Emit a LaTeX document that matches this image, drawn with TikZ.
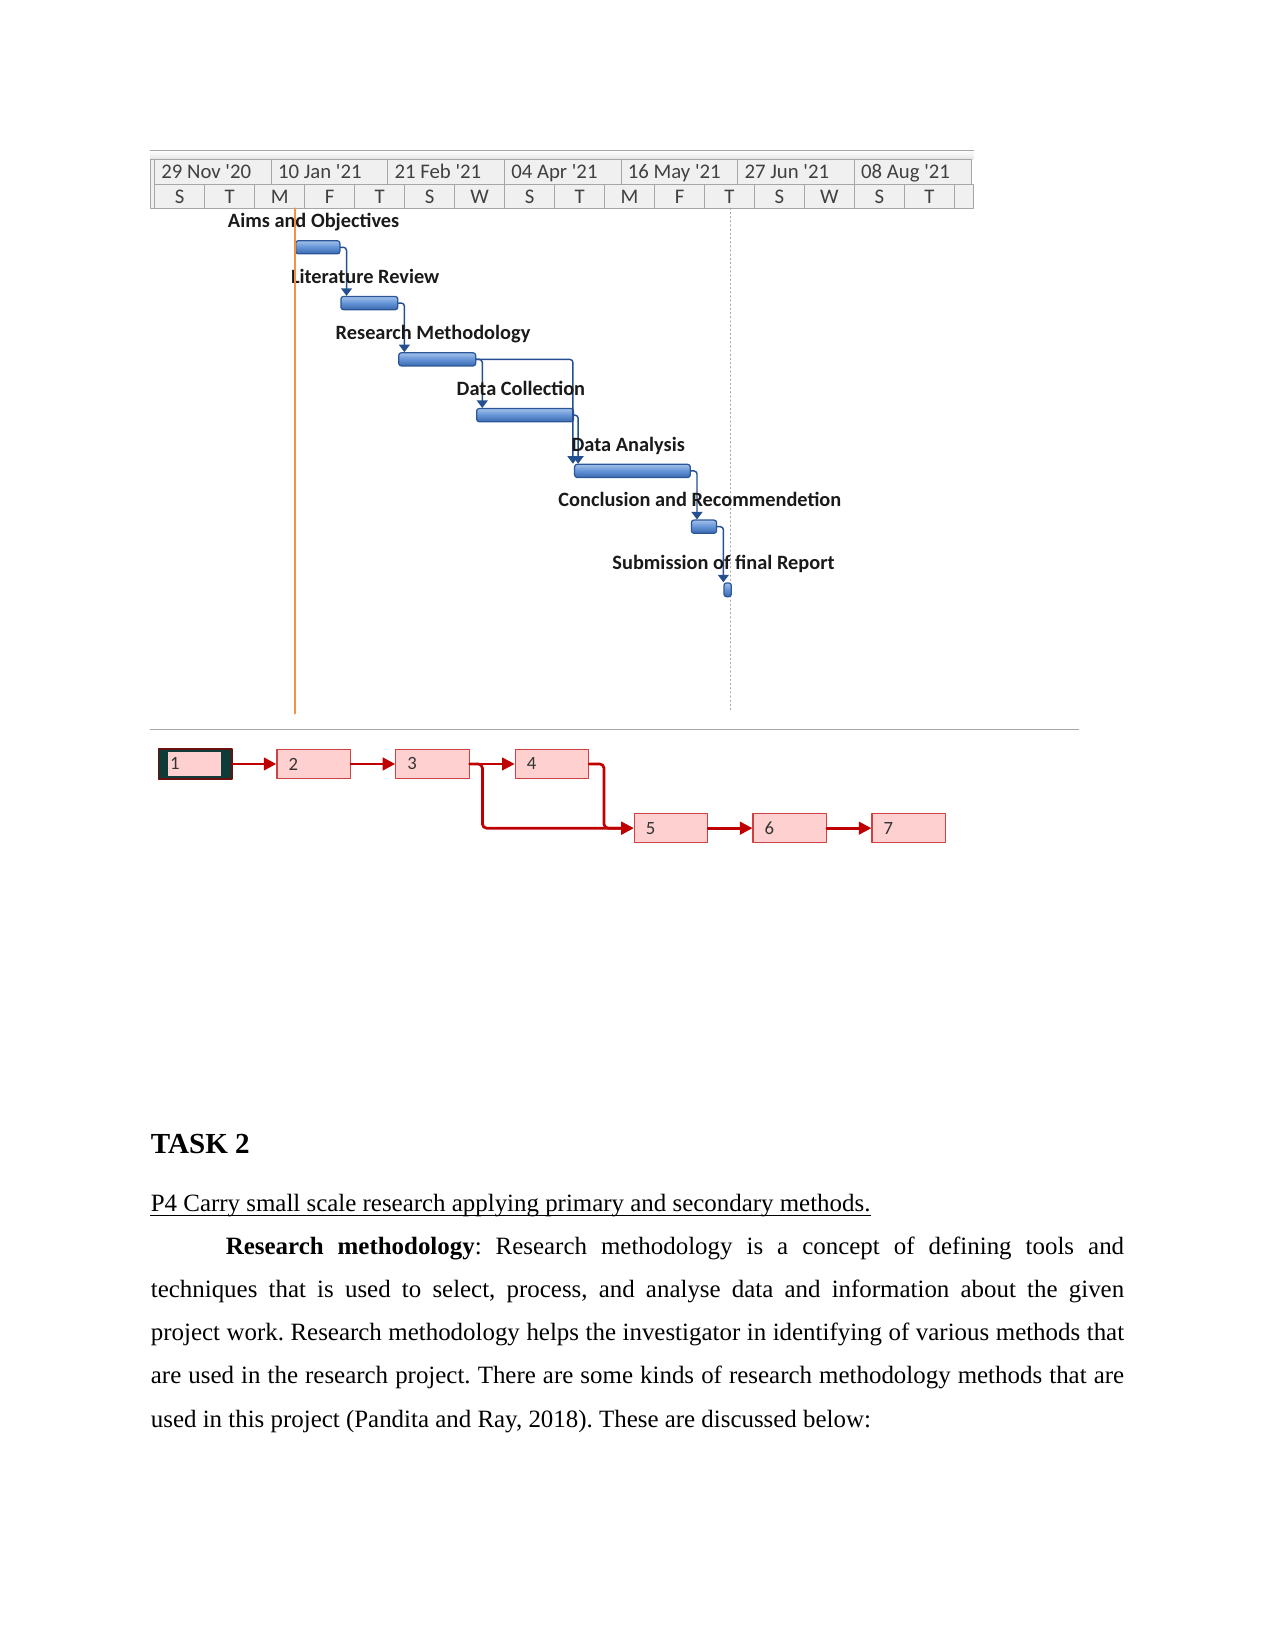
\documentclass[tikz,border=0pt]{standalone}
\usepackage{fontspec}
\setmainfont{Liberation Serif}
\newfontfamily\calfont{Carlito}
\usetikzlibrary{arrows.meta,positioning}
\definecolor{hdrline}{HTML}{A6A6A6}
\definecolor{hdrfill}{HTML}{F0F0F0}
\definecolor{hdrtext}{HTML}{404040}
\definecolor{barhi}{HTML}{A3C0EA}
\definecolor{barmid}{HTML}{6393D6}
\definecolor{barlo}{HTML}{3A68AE}
\definecolor{barline}{HTML}{2B5797}
\definecolor{tasktext}{HTML}{1A1A1A}
\definecolor{glinkc}{HTML}{24508F}
\definecolor{today}{HTML}{F7913D}
\definecolor{pertline}{HTML}{D04040}
\definecolor{pertfill}{HTML}{FFD0D0}
\definecolor{pertnum}{HTML}{333333}
\definecolor{plinkc}{HTML}{C00000}
\definecolor{selfill}{HTML}{0E3B38}
\definecolor{seledge}{HTML}{6B1010}
\newcommand{\pxu}{0.50495bp}
\tikzstyle{every path}=[line cap=round,line join=round]
\tikzstyle{hdrcell}=[draw=hdrline,fill=hdrfill,line width=0.5bp]
\tikzstyle{hdrtxt}=[font=\calfont\fontsize{10}{12}\selectfont,text=hdrtext,inner sep=0pt]
\tikzstyle{bar}=[draw=barline,line width=0.6bp,rounded corners=1.2bp,top color=barhi,bottom color=barlo,middle color=barmid,minimum height=6.3bp,inner sep=0pt]
\tikzstyle{task}=[font=\calfont\bfseries\fontsize{9.8}{11}\selectfont,text=tasktext,inner sep=0pt,text height=7bp,text depth=2bp]
\tikzstyle{glink}=[draw=glinkc,line width=0.7bp,rounded corners=1.5bp,-{Triangle[width=5.2bp,length=3.6bp]}]
\tikzstyle{pbox}=[draw=pertline,fill=pertfill,line width=0.6bp,minimum height=14.1bp,text width=24bp,inner xsep=5.6bp,inner ysep=0pt,align=left,font=\calfont\fontsize{9}{10}\selectfont,text=pertnum]
\tikzstyle{pboxsel}=[pbox,draw=seledge,line width=0.9bp,fill=selfill,path picture={\fill[pertfill] ([xshift=4.4bp,yshift=-1.4bp]path picture bounding box.north west) rectangle ([xshift=-5bp,yshift=1.4bp]path picture bounding box.south east);}]
\tikzstyle{plink}=[draw=plinkc,line width=1.3bp,rounded corners=2bp,-{Triangle[width=6bp,length=6bp]}]
\begin{document}
\begin{tikzpicture}[x=\pxu,y=-\pxu]
\useasboundingbox (0,0) rectangle (1212,1568);
% time scale
\shade[top color=white,bottom color=gray!22] (143,143) rectangle (925,152);
\draw[hdrline,line width=0.8bp] (143,143) -- (925,143);
\draw[hdrcell] (143,152) rectangle (147,198);
\foreach \dt/\yr [count=\i from 0] in {29 Nov/20,10 Jan/21,21 Feb/21,04 Apr/21,16 May/21,27 Jun/21,08 Aug/21}{
  \draw[hdrcell] (147+\i*110.83,152) rectangle +(110.83,23);
  \node[hdrtxt,anchor=base west] (d\i) at (153+\i*110.83,170) {\dt\ \textquotesingle\yr};
}
\foreach \w [count=\i from 0] in {S,T,M,F,T,S,W,S,T,M,F,T,S,W,S,T}{
  \draw[hdrcell] (147+\i*47.5,175) rectangle +(47.5,23);
  \node[hdrtxt,anchor=base] (w\i) at (170.75+\i*47.5,193) {\w};
}
\draw[hdrcell] (907,175) rectangle (925,198);
\draw[gray!70,line width=0.6bp,dash pattern=on 0.5bp off 1.5bp] (694,198) -- (694,676);
% task bars
\node[bar,minimum width=21.2bp] (b1) at (302,235) {};
\node[bar,minimum width=27.3bp] (b2) at (351,288) {};
\node[bar,minimum width=36.9bp] (b3) at (415.5,341.5) {};
\node[bar,minimum width=46.5bp] (b4) at (499,394.5) {};
\node[bar,minimum width=55.5bp] (b5) at (601,447.5) {};
\node[bar,minimum width=12.1bp] (b6) at (669,500.5) {};
\node[bar,minimum width=3.5bp,minimum height=6.6bp] (b7) at (691.5,560.5) {};
\draw[glink] (b1.east) -| ([xshift=3bp]b2.north west);
\draw[glink] (b2.east) -| ([xshift=3bp]b3.north west);
\draw[glink] (b3.east) -| ([xshift=3bp]b4.north west);
\draw[glink] (b3.east) -| ([xshift=-0.5bp]b5.north west);
\draw[glink] (b4.east) -| ([xshift=2bp]b5.north west);
\draw[glink] (b5.east) -| ([xshift=3bp]b6.north west);
\draw[glink] (b6.east) -| (b7.north west);
\node[task,above=3.8bp of b1,xshift=-2bp] (t1) {Aims and Objectives};
\node[task,above=3.8bp of b2,xshift=-2bp] (t2) {Literature Review};
\node[task,above=3.8bp of b3,xshift=-2bp] (t3) {Research Methodology};
\node[task,above=3.8bp of b4,xshift=-2bp] (t4) {Data Collection};
\node[task,above=3.8bp of b5,xshift=-2bp] (t5) {Data Analysis};
\node[task,above=3.8bp of b6,xshift=-2bp] (t6) {Conclusion and Recommendetion};
\node[task,above=3.8bp of b7,xshift=-2bp] (t7) {Submission of final Report};
\draw[today,line width=1bp] (280,198) -- (280,678);
\draw[hdrline,line width=0.7bp] (143,693) -- (1025,693);
% network
\node[pboxsel] (n1) at (185.5,726) {1};
\node[pbox] (n2) at (298,726) {2};
\node[pbox] (n3) at (411,726) {3};
\node[pbox] (n4) at (524.5,726) {4};
\node[pbox] (n5) at (637.5,787) {5};
\node[pbox] (n6) at (750.5,787) {6};
\node[pbox] (n7) at (863.5,787) {7};
\draw[plink] (n1) -- (n2);
\draw[plink] (n2) -- (n3);
\draw[plink] (n3) -- (n4);
\draw[plink] (n3.east) -- ++(12,0) |- (n5.west);
\draw[plink] (n4.east) -- ++(14,0) |- (n5.west);
\draw[plink] (n5) -- (n6);
\draw[plink] (n6) -- (n7);
% text below
\node[anchor=base west,inner sep=0pt,font=\fontsize{14}{16}\selectfont\bfseries] (task2) at (143,1096) {TASK 2};
\node[anchor=base west,inner sep=0pt,font=\fontsize{12}{14}\selectfont] (aim) at (143,1151) {P4 Carry small scale research applying primary and secondary methods.};
\draw[line width=0.6bp,line cap=butt] ([yshift=-2bp]aim.base west) -- ([yshift=-2bp]aim.base east);
\node[anchor=base west,inner sep=0pt,text width=467bp,align=justify,font=\fontsize{12}{20.8}\selectfont] (para) at (143,1192) {\frenchspacing\tolerance=10000
\hspace*{36bp}\textbf{Research methodology}: Research methodology is a concept of defining tools and\linebreak
techniques that is used to select, process, and analyse data and information about the given\linebreak
project work. Research methodology helps the investigator in identifying of various methods that\linebreak
are used in the research project. There are some kinds of research methodology methods that are\linebreak
used in this project (Pandita and Ray, 2018). These are discussed below:};
\end{tikzpicture}
\end{document}
